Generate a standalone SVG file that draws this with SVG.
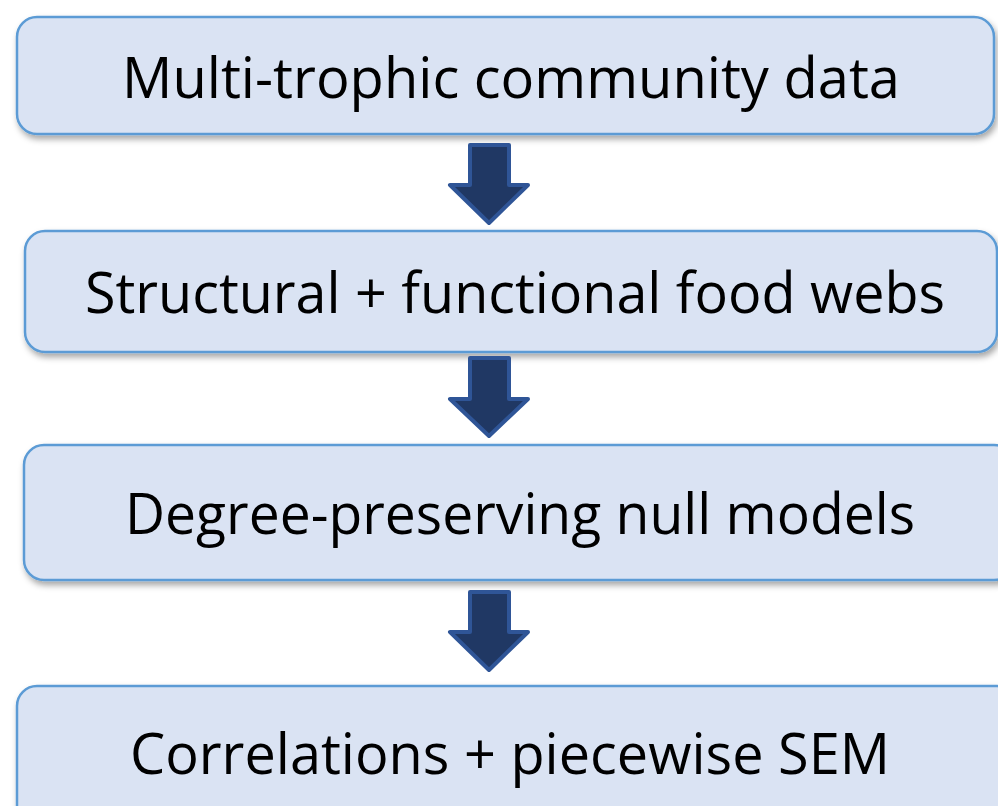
<svg xmlns="http://www.w3.org/2000/svg" width="998" height="806" viewBox="0 0 998 806">
<style>
.box{fill:#dae3f3;stroke:#5b9bd5;stroke-width:2.5;filter:url(#sh)}
.lbl{font-family:"Open Sans","Liberation Sans",sans-serif;font-size:56px;fill:#000}
.arr{fill:#203864;stroke:#2f5597;stroke-width:4;stroke-linejoin:round}
</style>
<defs>
<filter id="sh" x="-5%" y="-10%" width="110%" height="130%">
<feDropShadow dx="2" dy="4" stdDeviation="3" flood-color="#000" flood-opacity="0.35"/>
</filter>
</defs>
<rect width="998" height="806" fill="#fff"/>
<g id="node1"><rect class="box" x="17" y="17" width="977" height="117" rx="20"/><text class="lbl" x="122" y="98" textLength="778" lengthAdjust="spacingAndGlyphs">Multi-trophic community data</text></g>
<g id="node2"><rect class="box" x="25" y="231" width="972" height="121" rx="20"/><text class="lbl" x="85" y="313" textLength="860" lengthAdjust="spacingAndGlyphs">Structural + functional food webs</text></g>
<g id="node3"><rect class="box" x="24" y="445" width="990" height="135" rx="20"/><text class="lbl" x="125" y="534" textLength="790" lengthAdjust="spacingAndGlyphs">Degree-preserving null models</text></g>
<g id="node4"><rect class="box" x="17" y="686" width="1000" height="140" rx="20"/><text class="lbl" x="130" y="774" textLength="760" lengthAdjust="spacingAndGlyphs">Correlations + piecewise SEM</text></g>
<g id="connectors">
<path class="arr" d="M470 145 H509 V185 H528 L489 223 L450 185 H470 Z"/>
<path class="arr" d="M470 358 H509 V399 H528 L489 436 L450 399 H470 Z"/>
<path class="arr" d="M470 592 H509 V632 H528 L489 670 L450 632 H470 Z"/>
</g>
</svg>
